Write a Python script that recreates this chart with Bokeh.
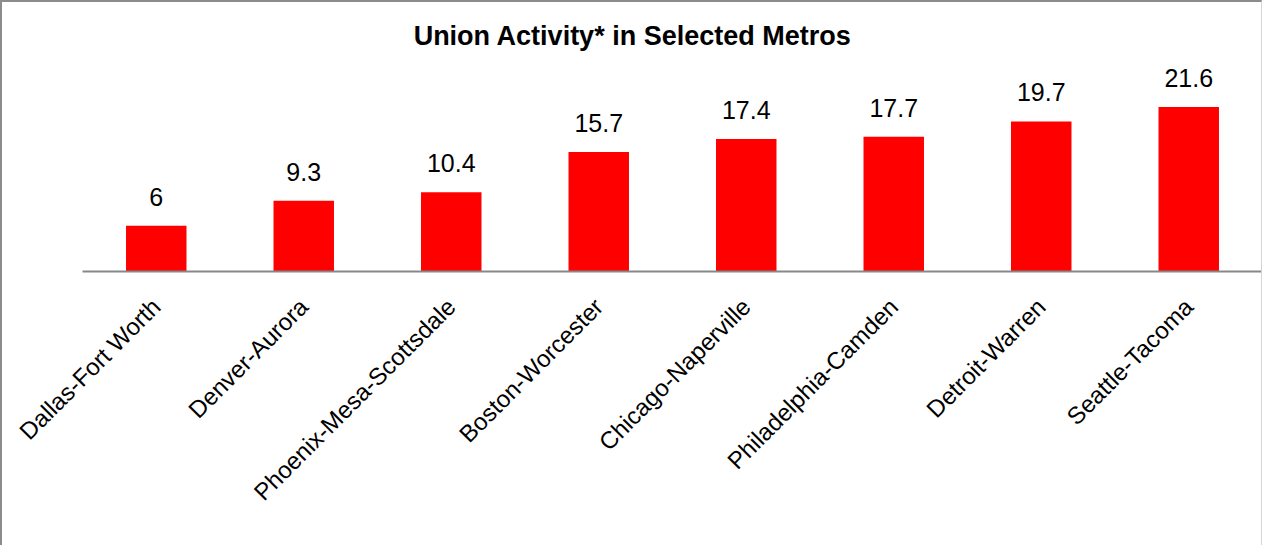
from bokeh.plotting import figure
from bokeh.models import FactorRange, Range1d, Label, ColumnDataSource
from bokeh.core.properties import value
from bokeh.embed import file_html
from bokeh.resources import INLINE
import math

metros = ["Dallas-Fort Worth", "Denver-Aurora", "Phoenix-Mesa-Scottsdale", "Boston-Worcester",
          "Chicago-Naperville", "Philadelphia-Camden", "Detroit-Warren", "Seattle-Tacoma"]
activity = [6, 9.3, 10.4, 15.7, 17.4, 17.7, 19.7, 21.6]
labels = ["6", "9.3", "10.4", "15.7", "17.4", "17.7", "19.7", "21.6"]
title_text = "Union Activity* in Selected Metros"

FONT = "Liberation Sans"

src = ColumnDataSource(dict(x=metros, y=activity, t=labels))

p = figure(x_range=FactorRange(*metros, range_padding=0), y_range=Range1d(0, 34.0),
           width=1262, height=545, output_backend="svg", toolbar_location=None,
           min_border_left=80, min_border_right=2, min_border_top=10, min_border_bottom=276)
p.styles = {"border-left": "2px solid #8c8c8c", "border-top": "2px solid #8c8c8c",
            "border-right": "1px solid #d4d4d4"}
p.outline_line_color = None
p.xgrid.visible = False
p.ygrid.visible = False
p.yaxis.visible = False

p.vbar(x="x", top="y", width=0.41, source=src, fill_color="#ff0000", line_color=None)
p.text(x="x", y="y", text="t", source=src, text_align="center", text_baseline="alphabetic",
       y_offset=-29, text_font=value(FONT), text_font_size="25px", text_color="black")

ax = p.xaxis[0]
ax.axis_line_color = "#888888"
ax.axis_line_width = 2
ax.major_tick_line_color = None
ax.minor_tick_line_color = None
ax.major_label_orientation = math.pi / 4
ax.major_label_standoff = 25
ax.major_label_text_font = FONT
ax.major_label_text_font_size = "24px"
ax.major_label_text_color = "black"

title = Label(x=3.73, y=30.85, text=title_text, text_align="center", text_baseline="middle",
              text_font=FONT, text_font_size="27px", text_font_style="bold", text_color="black")
p.add_layout(title)

open("out.html", "w").write(file_html(p, INLINE))
